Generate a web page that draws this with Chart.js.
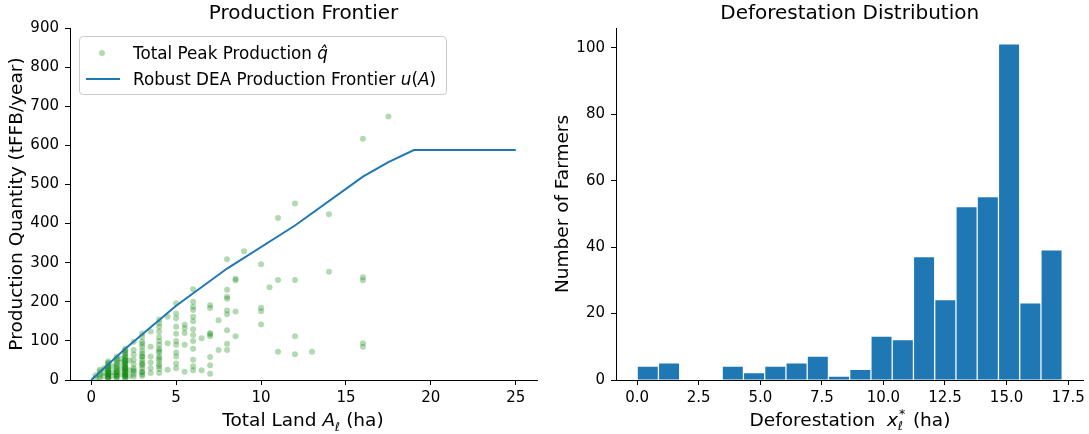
<!DOCTYPE html>
<html>
<head>
<meta charset="utf-8">
<title>Production Frontier and Deforestation Distribution</title>
<script src="https://cdn.jsdelivr.net/npm/chart.js@4.4.1/dist/chart.umd.min.js"></script>
<style>
    html, body { margin: 0; padding: 0; background: #fff; overflow: hidden; }
    body { width: 1089px; height: 434px; position: relative; font-family: 'DejaVu Sans', sans-serif; color: #000; }
    .panel { position: absolute; top: 0; height: 434px; }
    #leftPanel { left: 0; width: 545px; }
    #rightPanel { left: 545px; width: 544px; }
    .xlabel { position: absolute; top: 411px; width: 400px; height: 18px; line-height: 18px; font-size: 18.5px; text-align: center; white-space: nowrap; }
    .xlabel i { font-style: italic; }
    .xlabel sub, .xlabel sup { font-size: 12.5px; line-height: 0; }
    .stack { display: inline-block; position: relative; width: 9px; height: 18px; vertical-align: top; }
    .stack .up { position: absolute; left: 1px; top: -3px; font-size: 12.5px; line-height: 12px; }
    .stack .down { position: absolute; left: 0; top: 9px; font-size: 12.5px; line-height: 12px; font-style: italic; }
    #legend { position: absolute; left: 79px; top: 36px; width: 366px; height: 57px; border: 1px solid #cccccc; border-radius: 4px; background: rgba(255,255,255,0.8); font-size: 16.8px; }
    #legend .row { position: absolute; left: 0; height: 20px; line-height: 20px; white-space: nowrap; }
    #legend .txt { position: absolute; left: 53px; top: 0; }
    #legend .dot { position: absolute; left: 19px; top: 7px; width: 6px; height: 6px; border-radius: 50%; background: rgba(0,128,0,0.3); }
    #legend .seg { position: absolute; left: 6px; top: 9px; width: 34px; height: 2px; background: #1f77b4; }
</style>
</head>
<body>
<div id="leftPanel" class="panel"><canvas id="frontierChart"></canvas></div>
<div id="rightPanel" class="panel"><canvas id="deforestChart"></canvas></div>

<div class="xlabel" style="left:103px;">Total Land <i>A</i><sub><i>ℓ</i></sub> (ha)</div>
<div class="xlabel" style="left:650px;">Deforestation&nbsp; <i>x</i><span class="stack"><span class="up">*</span><span class="down">ℓ</span></span>&nbsp;(ha)</div>

<div id="legend">
    <div class="row" style="top:6px;"><span class="dot"></span><span class="txt">Total Peak Production <i>q̂</i></span></div>
    <div class="row" style="top:32px;"><span class="seg"></span><span class="txt">Robust DEA Production Frontier <i>u</i>(<i>A</i>)</span></div>
</div>

<script>
// --- left panel: land vs. peak production (one entry per farmer) ---
const landArea = [
    0.25, 0.25,
    0.5, 0.5, 0.5, 0.5, 0.5,
    0.75, 0.75, 0.75,
    1, 1, 1, 1, 1, 1, 1, 1, 1, 1, 1, 1, 1, 1, 1, 1, 1, 1,
    1.25, 1.25, 1.25,
    1.5, 1.5, 1.5, 1.5, 1.5, 1.5, 1.5, 1.5, 1.5, 1.5, 1.5, 1.5, 1.5, 1.5, 1.5, 1.5,
    1.75, 1.75, 1.75, 1.75,
    2, 2, 2, 2, 2, 2, 2, 2, 2, 2, 2, 2, 2, 2,
    2, 2, 2, 2, 2, 2, 2, 2, 2, 2, 2, 2, 2, 2,
    2.25, 2.25, 2.25,
    2.5, 2.5, 2.5, 2.5, 2.5, 2.5, 2.5, 2.5, 2.5, 2.5,
    3, 3, 3, 3, 3, 3, 3, 3, 3, 3, 3, 3, 3, 3, 3, 3, 3, 3,
    3.5, 3.5, 3.5, 3.5, 3.5, 3.5,
    4, 4, 4, 4, 4, 4, 4, 4, 4, 4, 4, 4, 4, 4, 4, 4, 4,
    4.5, 4.5, 4.5,
    5, 5, 5, 5, 5, 5, 5, 5, 5, 5, 5,
    5.5, 5.5, 5.5, 5.5, 5.5,
    6, 6, 6, 6, 6, 6, 6, 6, 6, 6, 6, 6, 6,
    6.5, 6.5,
    7, 7, 7, 7, 7, 7, 7, 7,
    7.5, 7.5,
    8, 8, 8, 8, 8, 8, 8, 8, 8,
    8.5, 8.5, 8.5, 8.5,
    9,
    10, 10, 10, 10,
    10.5,
    11, 11, 11,
    12, 12, 12, 12,
    13,
    14, 14,
    16, 16, 16, 16, 16,
    17.5
];
const peakProduction = [
    5, 12,
    5, 8, 15, 22, 26,
    10, 18, 30,
    3, 6, 9, 12, 15, 18, 21, 24, 27, 30, 33, 36, 40, 44, 47, 5, 10, 20,
    10, 20, 35,
    3, 7, 11, 15, 19, 23, 27, 31, 35, 40, 45, 50, 55, 60, 10, 20,
    15, 30, 45, 55,
    3, 6, 9, 12, 15, 18, 21, 24, 27, 30, 33, 36, 40, 44,
    48, 52, 56, 60, 64, 68, 72, 76, 80, 10, 20, 30, 40, 50,
    10, 25, 50,
    8, 15, 22, 25, 30, 40, 52, 65, 77, 98,
    10, 15, 20, 22, 30, 38, 40, 45, 52, 60, 60, 68, 75, 85, 92, 98, 110, 119,
    18, 30, 45, 60, 85, 124,
    18, 28, 35, 40, 50, 55, 60, 70, 75, 80, 90, 100, 110, 124, 136, 145, 155,
    26, 94, 162,
    30, 42, 60, 70, 90, 100, 118, 136, 158, 170, 196,
    21, 90, 120, 132, 141,
    25, 35, 52, 80, 100, 115, 130, 150, 162, 179, 187, 200, 232,
    25, 107,
    16, 38, 59, 112, 117, 120, 184, 191,
    77, 153,
    77, 93, 127, 168, 178, 208, 213, 231, 309,
    112, 175, 255, 259,
    329,
    142, 176, 185, 296,
    237,
    72, 256, 414,
    66, 112, 256, 451,
    72,
    277, 424,
    85, 94, 255, 263, 617,
    674
];

// robust DEA frontier vertices
const frontierLand = [0, 2, 5, 8, 12, 16, 17.5, 19, 25];
const frontierOutput = [0, 80, 190, 285, 395, 520, 557, 588, 588];

const landTicks = [0, 5, 10, 15, 20, 25];
const outputTicks = [0, 100, 200, 300, 400, 500, 600, 700, 800, 900];

// --- right panel: histogram of deforestation ---
const binEdges = [0, 0.863, 1.726, 2.589, 3.452, 4.315, 5.178, 6.041, 6.904, 7.767, 8.63,
    9.493, 10.356, 11.219, 12.082, 12.945, 13.808, 14.671, 15.534, 16.397, 17.26];
const farmerCounts = [4, 5, 0, 0, 4, 2, 4, 5, 7, 1, 3, 13, 12, 37, 24, 52, 55, 101, 23, 39];

const deforestTicks = [0, 2.5, 5, 7.5, 10, 12.5, 15, 17.5];
const farmerTicks = [0, 20, 40, 60, 80, 100];

Chart.defaults.font.family = "'DejaVu Sans', sans-serif";
Chart.defaults.color = '#000';

const fixedTicks = values => axis => {
    axis.ticks = values.map(v => ({ value: v }));
};

const tickGrid = { drawOnChartArea: false, color: '#000', tickLength: 5, offset: false };
const axisBorder = { display: true, color: '#000', width: 1 };
const tickFont = { size: 15 };
const labelFont = { size: 18.5 };
const titleFont = { size: 20, weight: 'normal' };

new Chart(document.getElementById('frontierChart'), {
    type: 'scatter',
    data: {
        datasets: [
            {
                label: 'Robust DEA Production Frontier',
                data: frontierLand.map((a, i) => ({ x: a, y: frontierOutput[i] })),
                showLine: true,
                borderColor: '#1f77b4',
                borderWidth: 2,
                pointRadius: 0,
                fill: false,
                tension: 0,
                order: 0
            },
            {
                label: 'Total Peak Production',
                data: peakProduction.map((q, i) => ({ x: landArea[i], y: q })),
                backgroundColor: 'rgba(0,128,0,0.3)',
                borderWidth: 0,
                pointRadius: 3,
                order: 1
            }
        ]
    },
    options: {
        responsive: true,
        maintainAspectRatio: false,
        animation: false,
        layout: { padding: { left: 0, right: 8, top: 0, bottom: 0 } },
        plugins: {
            legend: { display: false },
            tooltip: { enabled: false },
            title: {
                display: true,
                text: 'Production Frontier',
                fullSize: false,
                color: '#000',
                font: titleFont,
                padding: { top: 2, bottom: 2 }
            }
        },
        scales: {
            x: {
                type: 'linear',
                min: -1.25,
                max: 26.25,
                afterBuildTicks: fixedTicks(landTicks),
                afterFit: s => { s.height = 54; },
                grid: tickGrid,
                border: axisBorder,
                ticks: { font: tickFont, padding: 4, maxRotation: 0, autoSkip: false }
            },
            y: {
                type: 'linear',
                min: 0,
                max: 900,
                afterBuildTicks: fixedTicks(outputTicks),
                afterFit: s => { s.width = 70; },
                grid: tickGrid,
                border: axisBorder,
                ticks: { font: tickFont, padding: 6, autoSkip: false },
                title: {
                    display: true,
                    text: 'Production Quantity (tFFB/year)',
                    font: labelFont,
                    padding: { top: 6, bottom: 0 }
                }
            }
        }
    }
});

new Chart(document.getElementById('deforestChart'), {
    type: 'bar',
    data: {
        datasets: [{
            label: 'Farmers',
            data: farmerCounts.map((c, i) => ({ x: (binEdges[i] + binEdges[i + 1]) / 2, y: c })),
            backgroundColor: '#1f77b4',
            borderWidth: 0,
            barPercentage: 0.94,
            categoryPercentage: 1.0
        }]
    },
    options: {
        responsive: true,
        maintainAspectRatio: false,
        animation: false,
        layout: { padding: { left: 0, right: 5, top: 0, bottom: 0 } },
        plugins: {
            legend: { display: false },
            tooltip: { enabled: false },
            title: {
                display: true,
                text: 'Deforestation Distribution',
                fullSize: false,
                color: '#000',
                font: titleFont,
                padding: { top: 2, bottom: 2 }
            }
        },
        scales: {
            x: {
                type: 'linear',
                offset: false,
                min: -0.86,
                max: 18.12,
                afterBuildTicks: fixedTicks(deforestTicks),
                afterFit: s => { s.height = 54; },
                grid: tickGrid,
                border: axisBorder,
                ticks: {
                    font: tickFont, padding: 4, maxRotation: 0, autoSkip: false,
                    callback: v => v.toFixed(1)
                }
            },
            y: {
                type: 'linear',
                min: 0,
                max: 106,
                afterBuildTicks: fixedTicks(farmerTicks),
                afterFit: s => { s.width = 71; },
                grid: tickGrid,
                border: axisBorder,
                ticks: { font: tickFont, padding: 6, autoSkip: false },
                title: {
                    display: true,
                    text: 'Number of Farmers',
                    font: labelFont,
                    padding: { top: 7, bottom: 0 }
                }
            }
        }
    }
});
</script>
</body>
</html>
